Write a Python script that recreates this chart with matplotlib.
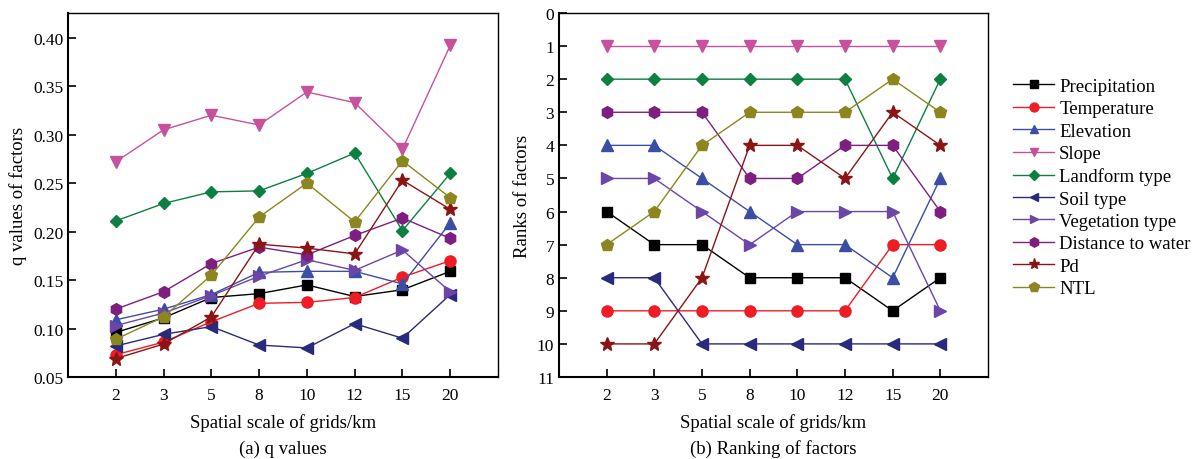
import matplotlib
matplotlib.use("Agg")
import matplotlib.pyplot as plt

plt.rcParams["font.family"] = ["Liberation Serif", "DejaVu Serif"]

# Spatial scales (km) shown as evenly spaced categories
scales = ["2", "3", "5", "8", "10", "12", "15", "20"]

factors = ["Precipitation", "Temperature", "Elevation", "Slope", "Landform type",
           "Soil type", "Vegetation type", "Distance to water", "Pd", "NTL"]

# q values
q_precipitation = [0.096, 0.111, 0.132, 0.136, 0.145, 0.133, 0.140, 0.159]
q_temperature = [0.073, 0.086, 0.107, 0.126, 0.127, 0.132, 0.153, 0.170]
q_elevation = [0.109, 0.120, 0.135, 0.158, 0.159, 0.159, 0.146, 0.209]
q_slope = [0.272, 0.305, 0.320, 0.310, 0.344, 0.333, 0.285, 0.392]
q_landform = [0.211, 0.229, 0.241, 0.242, 0.260, 0.281, 0.201, 0.260]
q_soil = [0.082, 0.094, 0.102, 0.083, 0.080, 0.105, 0.090, 0.135]
q_vegetation = [0.103, 0.116, 0.134, 0.154, 0.171, 0.160, 0.181, 0.138]
q_water = [0.120, 0.138, 0.167, 0.184, 0.176, 0.196, 0.214, 0.193]
q_pd = [0.069, 0.084, 0.112, 0.187, 0.183, 0.177, 0.253, 0.223]
q_ntl = [0.089, 0.112, 0.155, 0.215, 0.250, 0.210, 0.273, 0.235]

# ranks
r_precipitation = [6, 7, 7, 8, 8, 8, 9, 8]
r_temperature = [9, 9, 9, 9, 9, 9, 7, 7]
r_elevation = [4, 4, 5, 6, 7, 7, 8, 5]
r_slope = [1, 1, 1, 1, 1, 1, 1, 1]
r_landform = [2, 2, 2, 2, 2, 2, 5, 2]
r_soil = [8, 8, 10, 10, 10, 10, 10, 10]
r_vegetation = [5, 5, 6, 7, 6, 6, 6, 9]
r_water = [3, 3, 3, 5, 5, 4, 4, 6]
r_pd = [10, 10, 8, 4, 4, 5, 3, 4]
r_ntl = [7, 6, 4, 3, 3, 3, 2, 3]

q_values = [q_precipitation, q_temperature, q_elevation, q_slope, q_landform,
            q_soil, q_vegetation, q_water, q_pd, q_ntl]
ranks = [r_precipitation, r_temperature, r_elevation, r_slope, r_landform,
         r_soil, r_vegetation, r_water, r_pd, r_ntl]

colors = ["#000000", "#ee1c24", "#3b4ea5", "#c7519c", "#0b8040",
          "#2a2a7c", "#6b46a6", "#7e1e80", "#8b1414", "#8c8620"]
markers = ["s", "o", "^", "v", "D", "<", ">", "h", "*", "p"]
msizes = [7, 8, 8, 8, 6.5, 8, 8, 8.5, 10, 9]

fig = plt.figure(figsize=(12.01, 4.6), dpi=100)
W, H = 1201, 460
ax1 = fig.add_axes([68 / W, 1 - 378 / H, 430 / W, 364 / H])
ax2 = fig.add_axes([559 / W, 1 - 378 / H, 429 / W, 364 / H])

x = list(range(len(scales)))

for i in range(len(factors)):
    ax1.plot(x, q_values[i], color=colors[i], marker=markers[i],
             markersize=msizes[i], linewidth=1, label=factors[i])
    ax2.plot(x, ranks[i], color=colors[i], marker=markers[i],
             markersize=msizes[i], linewidth=1)

# panel (a)
ax1.set_xlim(-1, 8)
ax1.set_ylim(0.05, 0.4255)
ax1.set_yticks([0.05, 0.10, 0.15, 0.20, 0.25, 0.30, 0.35, 0.40])
ax1.set_yticklabels(["0.05", "0.10", "0.15", "0.20", "0.25", "0.30", "0.35", "0.40"])
ax1.set_ylabel("q values of factors", fontsize=13.5)

# panel (b)
ax2.set_xlim(-1, 8)
ax2.set_ylim(11, 0)
ax2.set_yticks(range(0, 12))
ax2.set_ylabel("Ranks of factors", fontsize=13.5)

for ax in (ax1, ax2):
    ax.set_xticks(x)
    ax.set_xticklabels(scales)
    ax.tick_params(direction="in", length=6, width=1.2, labelsize=12.5,
                   top=False, right=False)
    ax.tick_params(axis="x", pad=7)
    for side in ("left", "bottom"):
        ax.spines[side].set_linewidth(1.5)
    for side in ("top", "right"):
        ax.spines[side].set_linewidth(1.0)

fig.text(283 / W, 1 - 423 / H, "Spatial scale of grids/km", ha="center", va="center", fontsize=13.5)
fig.text(283 / W, 1 - 449 / H, "(a) q values", ha="center", va="center", fontsize=13.5)
fig.text(773 / W, 1 - 423 / H, "Spatial scale of grids/km", ha="center", va="center", fontsize=13.5)
fig.text(773 / W, 1 - 449 / H, "(b) Ranking of factors", ha="center", va="center", fontsize=13.5)

handles, labels = ax1.get_legend_handles_labels()
fig.legend(handles, labels, loc="upper left", bbox_to_anchor=(996 / W, 1 - 62 / H),
           frameon=False, fontsize=13.5, handlelength=2.2, handletextpad=0.27,
           labelspacing=0.28, markerscale=0.8)

fig.savefig("out.png", dpi=100)
